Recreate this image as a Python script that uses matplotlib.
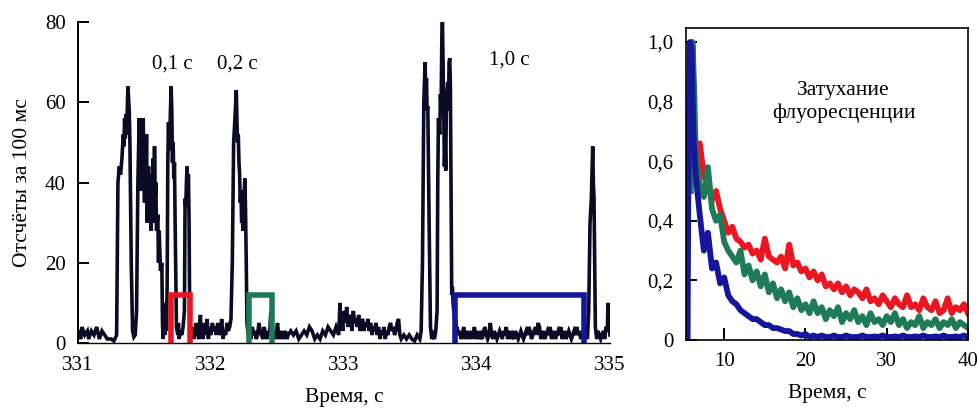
import numpy as np
import matplotlib.pyplot as plt

plt.rcParams['font.family'] = ['Liberation Serif', 'DejaVu Serif']

# --- left panel: photon counts trace (time, counts per 100 ms) ---
trace_a = [(331.00, 3), (331.02, 1), (331.03, 4), (331.05, 2), (331.07, 3), (331.08, 1), (331.10, 3),
           (331.12, 2), (331.14, 4), (331.16, 1), (331.18, 3), (331.20, 2), (331.22, 1), (331.25, 1),
           (331.27, 0.5), (331.29, 2), (331.30, 40), (331.31, 44), (331.32, 42), (331.33, 46),
           (331.34, 52), (331.345, 49), (331.35, 56), (331.355, 51), (331.36, 57), (331.365, 52),
           (331.375, 64), (331.385, 58), (331.39, 50), (331.40, 20), (331.41, 3), (331.42, 1.5),
           (331.43, 2), (331.44, 8), (331.45, 40), (331.46, 56), (331.465, 48), (331.47, 55),
           (331.475, 38), (331.48, 52), (331.485, 40), (331.49, 56), (331.495, 44), (331.50, 35),
           (331.505, 48), (331.51, 40), (331.515, 52), (331.52, 30), (331.53, 44), (331.535, 35),
           (331.54, 42), (331.55, 28), (331.555, 40), (331.56, 34), (331.565, 46), (331.57, 30),
           (331.575, 49), (331.58, 36), (331.585, 40), (331.59, 28), (331.60, 32), (331.605, 20),
           (331.61, 28), (331.62, 18), (331.63, 20), (331.635, 5), (331.64, 1), (331.65, 6),
           (331.655, 2), (331.66, 10), (331.665, 3), (331.67, 14), (331.675, 45), (331.68, 55),
           (331.685, 48), (331.69, 52), (331.70, 64), (331.705, 58), (331.71, 45), (331.715, 50),
           (331.72, 41), (331.725, 45), (331.73, 30), (331.74, 4), (331.75, 2), (331.755, 5),
           (331.76, 1), (331.77, 3), (331.78, 2), (331.79, 4), (331.80, 8), (331.805, 36),
           (331.81, 34), (331.815, 40), (331.82, 44), (331.825, 38), (331.83, 42), (331.835, 30),
           (331.84, 5), (331.85, 2), (331.86, 4), (331.87, 1), (331.88, 3), (331.89, 5), (331.90, 2),
           (331.91, 1), (331.92, 7), (331.925, 2), (331.93, 3), (331.94, 1), (331.95, 5), (331.96, 2),
           (331.97, 6), (331.98, 1), (331.99, 4)]

trace_b = [(332.00, 2), (332.01, 5), (332.02, 3), (332.03, 4), (332.04, 2), (332.05, 5), (332.06, 3),
           (332.07, 2), (332.08, 6), (332.09, 1), (332.10, 3), (332.11, 2), (332.12, 5), (332.13, 3),
           (332.14, 4), (332.15, 6), (332.16, 20), (332.17, 50), (332.18, 56), (332.19, 63),
           (332.195, 55), (332.20, 50), (332.205, 52), (332.21, 45), (332.215, 42), (332.22, 35),
           (332.225, 38), (332.23, 30), (332.235, 32), (332.24, 28), (332.25, 38), (332.255, 41),
           (332.26, 32), (332.265, 20), (332.27, 5), (332.28, 2), (332.29, 3), (332.30, 1),
           (332.31, 4), (332.32, 2), (332.33, 3), (332.34, 1), (332.35, 2), (332.36, 5), (332.37, 3),
           (332.38, 2), (332.39, 1), (332.40, 4), (332.41, 2), (332.42, 1), (332.43, 3), (332.44, 2),
           (332.45, 8), (332.46, 2), (332.47, 3), (332.48, 1), (332.49, 2), (332.50, 5), (332.51, 1),
           (332.52, 2), (332.53, 3), (332.54, 1), (332.55, 2), (332.56, 3), (332.57, 1), (332.58, 2),
           (332.60, 3), (332.62, 2), (332.64, 3), (332.66, 1), (332.68, 2), (332.70, 3), (332.72, 2),
           (332.74, 4), (332.76, 3), (332.78, 1), (332.80, 2), (332.82, 1), (332.84, 3), (332.86, 2),
           (332.88, 4), (332.90, 3), (332.92, 2), (332.94, 4), (332.96, 2), (332.97, 10),
           (332.975, 4), (332.98, 7), (332.99, 3)]

trace_c = [(333.00, 8), (333.01, 5), (333.02, 9), (333.03, 4), (333.04, 7), (333.05, 6), (333.06, 3),
           (333.07, 8), (333.08, 5), (333.09, 6), (333.10, 4), (333.11, 7), (333.12, 3), (333.13, 5),
           (333.14, 6), (333.15, 3), (333.16, 5), (333.17, 4), (333.18, 6), (333.19, 3), (333.20, 5),
           (333.21, 2), (333.22, 4), (333.23, 3), (333.24, 5), (333.25, 2), (333.26, 4), (333.27, 1),
           (333.28, 3), (333.29, 2), (333.30, 4), (333.31, 1), (333.32, 3), (333.33, 2), (333.34, 4),
           (333.35, 5), (333.36, 3), (333.37, 4), (333.38, 2), (333.39, 3), (333.40, 5), (333.41, 6),
           (333.42, 2), (333.43, 1), (333.45, 2), (333.47, 1), (333.49, 2), (333.51, 1), (333.53, 0.5),
           (333.55, 2), (333.57, 1), (333.58, 3), (333.59, 20), (333.60, 60), (333.61, 70),
           (333.615, 62), (333.62, 66), (333.625, 58), (333.63, 59), (333.64, 30), (333.65, 4),
           (333.66, 1), (333.67, 2), (333.68, 1), (333.69, 3), (333.70, 8), (333.705, 40),
           (333.71, 56), (333.72, 52), (333.725, 62), (333.73, 58), (333.735, 74), (333.74, 80),
           (333.745, 70), (333.75, 56), (333.755, 44), (333.76, 50), (333.765, 43), (333.77, 60),
           (333.78, 65), (333.785, 58), (333.79, 70), (333.795, 71), (333.80, 64), (333.805, 40),
           (333.81, 12), (333.815, 14), (333.82, 10), (333.825, 8), (333.83, 7), (333.835, 5),
           (333.84, 6), (333.845, 3), (333.85, 4), (333.86, 2), (333.87, 3), (333.88, 1), (333.89, 2),
           (333.90, 4), (333.91, 1), (333.92, 2), (333.93, 3), (333.94, 1), (333.95, 2), (333.96, 3),
           (333.97, 1), (333.98, 4), (333.99, 2)]

trace_d = [(334.00, 1), (334.01, 3), (334.02, 1), (334.03, 2), (334.04, 1), (334.05, 3), (334.06, 4),
           (334.07, 2), (334.08, 1), (334.09, 2), (334.10, 5), (334.11, 2), (334.12, 1), (334.13, 3),
           (334.14, 2), (334.15, 1), (334.16, 2), (334.17, 3), (334.18, 2), (334.19, 1), (334.20, 3),
           (334.21, 2), (334.22, 4), (334.23, 1), (334.24, 2), (334.25, 3), (334.26, 1), (334.27, 2),
           (334.28, 1), (334.29, 3), (334.30, 2), (334.31, 1), (334.32, 2), (334.33, 3), (334.34, 2),
           (334.35, 1), (334.36, 2), (334.37, 3), (334.38, 2), (334.39, 4), (334.40, 3), (334.41, 1),
           (334.42, 2), (334.43, 3), (334.44, 4), (334.45, 2), (334.46, 5), (334.47, 4), (334.48, 1),
           (334.49, 2), (334.50, 3), (334.51, 1), (334.52, 2), (334.53, 3), (334.54, 2), (334.55, 4),
           (334.56, 1), (334.57, 2), (334.58, 3), (334.59, 1), (334.60, 2), (334.61, 3), (334.62, 2),
           (334.63, 4), (334.64, 1), (334.65, 2), (334.66, 3), (334.67, 1), (334.68, 2), (334.69, 3),
           (334.70, 2), (334.71, 1), (334.72, 2), (334.73, 3), (334.74, 2), (334.75, 4), (334.76, 2),
           (334.77, 3), (334.78, 1), (334.79, 2), (334.80, 3), (334.81, 1), (334.82, 2), (334.83, 1),
           (334.84, 8), (334.85, 30), (334.86, 36), (334.865, 42), (334.87, 49), (334.875, 40),
           (334.88, 36), (334.885, 20), (334.89, 4), (334.90, 1), (334.91, 3), (334.92, 2),
           (334.93, 1), (334.94, 2), (334.95, 3), (334.96, 1), (334.97, 4), (334.98, 3),
           (334.985, 10), (334.99, 4), (335.00, 2)]

# selection windows: (start, end, height)
win_red = (331.70, 331.84, 12.0)
win_green = (332.285, 332.455, 12.0)
win_blue = (333.835, 334.805, 11.9)

# --- right panel: fluorescence decay ---
decay_t = np.arange(6.5, 40.25, 0.5)
red_head_t, red_head = [6.6], [0.60]
green_head_t, green_head = [5.9, 6.1, 6.3], [0.50, 1.00, 0.85]
blue_head_t, blue_head = [5.5, 5.6, 5.8, 6.0, 6.2], [0.0, 0.60, 1.00, 0.98, 0.70]

red_decay = [0.62, 0.66, 0.55, 0.52, 0.47, 0.50, 0.44, 0.40, 0.36, 0.38,
             0.34, 0.33, 0.31, 0.32, 0.29, 0.30, 0.27, 0.34, 0.28, 0.27,
             0.26, 0.28, 0.24, 0.32, 0.25, 0.26, 0.23, 0.24, 0.21, 0.23,
             0.20, 0.22, 0.18, 0.19, 0.17, 0.19, 0.16, 0.18, 0.15, 0.17,
             0.16, 0.14, 0.17, 0.13, 0.14, 0.12, 0.15, 0.13, 0.11, 0.14,
             0.12, 0.11, 0.15, 0.11, 0.12, 0.10, 0.14, 0.11, 0.10, 0.13,
             0.09, 0.10, 0.14, 0.09, 0.11, 0.10, 0.12, 0.09]
green_decay = [0.62, 0.52, 0.48, 0.58, 0.44, 0.40, 0.42, 0.33, 0.30, 0.28,
               0.26, 0.30, 0.22, 0.25, 0.20, 0.23, 0.18, 0.22, 0.16, 0.19,
               0.14, 0.17, 0.13, 0.16, 0.11, 0.14, 0.10, 0.12, 0.09, 0.13,
               0.09, 0.11, 0.07, 0.10, 0.08, 0.11, 0.06, 0.09, 0.07, 0.10,
               0.06, 0.08, 0.05, 0.09, 0.06, 0.07, 0.05, 0.08, 0.06, 0.09,
               0.05, 0.07, 0.04, 0.06, 0.05, 0.08, 0.04, 0.06, 0.05, 0.07,
               0.04, 0.06, 0.05, 0.07, 0.04, 0.06, 0.05, 0.04]
blue_decay = [0.55, 0.42, 0.30, 0.36, 0.24, 0.26, 0.19, 0.21, 0.15, 0.13,
              0.12, 0.10, 0.09, 0.08, 0.07, 0.07, 0.06, 0.05, 0.05, 0.04,
              0.04, 0.035, 0.03, 0.03, 0.02, 0.02, 0.015, 0.02, 0.01, 0.015,
              0.01, 0.015, 0.01, 0.01, 0.015, 0.01, 0.01, 0.015, 0.01, 0.01,
              0.01, 0.015, 0.01, 0.01, 0.012, 0.01, 0.015, 0.01, 0.01, 0.012,
              0.01, 0.015, 0.01, 0.01, 0.012, 0.01, 0.015, 0.01, 0.01, 0.012,
              0.01, 0.015, 0.01, 0.01, 0.012, 0.01, 0.015, 0.01]

RED, GREEN, BLUE = '#ec1622', '#1f7a58', '#16169a'
INK = '#0b0b26'

fig = plt.figure(figsize=(9.78, 4.08), dpi=100)

# left panel
ax = fig.add_axes([0.0798, 0.1593, 0.5439, 0.7867])
t, c = zip(*(trace_a + trace_b + trace_c + trace_d))
ax.plot(t, c, color=INK, lw=2.6, solid_joinstyle='miter')
for (x0, x1, h), col in [(win_red, RED), (win_green, GREEN), (win_blue, BLUE)]:
    ax.plot([x0, x0, x1, x1], [0, h, h, 0], color=col, lw=4.0, solid_joinstyle='miter')
ax.set_xlim(331, 335)
ax.set_ylim(0, 80)
for s in ['top', 'right']:
    ax.spines[s].set_visible(False)
ax.spines['left'].set_linewidth(1.4)
ax.spines['bottom'].set_linewidth(1.0)
ax.set_xticks([331, 332, 333, 334, 335])
ax.set_yticks([0, 20, 40, 60, 80])
ax.tick_params(axis='x', length=0, pad=9, labelsize=15)
ax.tick_params(axis='y', direction='in', length=8, width=1.4, pad=9, labelsize=15)
ax.set_xlabel('Время, с', fontsize=15.5, labelpad=10)
ax.set_ylabel('Отсчёты за 100 мс', fontsize=15.5, labelpad=9)
ax.text(331.71, 69.5, '0,1 с', fontsize=15, ha='center', va='center')
ax.text(332.20, 69.5, '0,2 с', fontsize=15, ha='center', va='center')
ax.text(334.24, 70.5, '1,0 с', fontsize=15, ha='center', va='center')

# right panel
ax2 = fig.add_axes([0.7014, 0.1667, 0.2884, 0.7647])
ax2.plot(np.r_[red_head_t, decay_t], np.r_[red_head, red_decay], color=RED, lw=4.2)
ax2.plot(np.r_[green_head_t, decay_t], np.r_[green_head, green_decay], color=GREEN, lw=4.2)
ax2.plot(np.r_[blue_head_t, decay_t], np.r_[blue_head, blue_decay], color=BLUE, lw=4.2)
ax2.set_xlim(5.3, 40)
ax2.set_ylim(0, 1.047)
ax2.set_xticks([10, 20, 30, 40])
ax2.set_yticks([0, 0.2, 0.4, 0.6, 0.8, 1.0])
ax2.set_yticklabels(['0', '0,2', '0,4', '0,6', '0,8', '1,0'])
for s in ax2.spines.values():
    s.set_linewidth(1.2)
ax2.tick_params(axis='both', direction='in', width=1.4, labelsize=15)
ax2.tick_params(axis='x', length=9, pad=9)
ax2.tick_params(axis='y', length=8, pad=9)
ax2.set_xlabel('Время, с', fontsize=15.5, labelpad=9)
ax2.text(24.7, 0.80, 'Затухание\nфлуоресценции', fontsize=15.5, ha='center', va='center',
         linespacing=1.25)

fig.savefig('out.png', dpi=100)
